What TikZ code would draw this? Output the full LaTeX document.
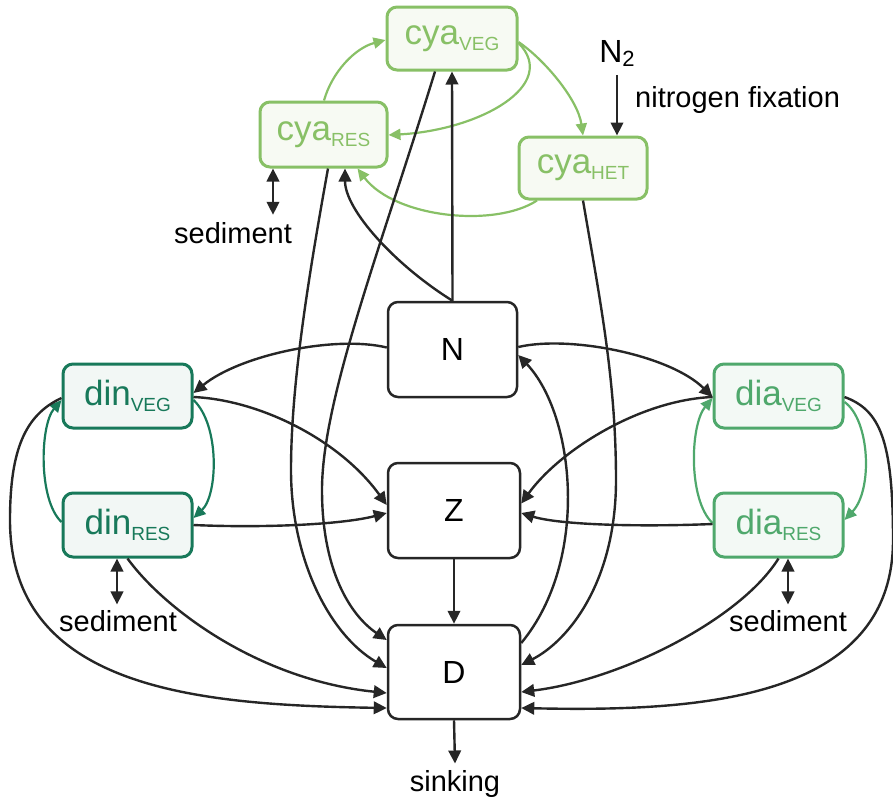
\documentclass[tikz,border=0pt]{standalone}
\usepackage{fontspec}
\setmainfont{Liberation Sans}
\usetikzlibrary{arrows.meta}
\definecolor{cyac}{HTML}{88C066}
\definecolor{cyaf}{HTML}{F7FAF3}
\definecolor{dinc}{HTML}{18795A}
\definecolor{dinf}{HTML}{F2F7F5}
\definecolor{diac}{HTML}{4FA86C}
\definecolor{diaf}{HTML}{F3F9F5}
\definecolor{ink}{HTML}{262626}
\newcommand\lsub[1]{\raisebox{-6pt}{\fontsize{19}{19}\selectfont #1}}
\begin{document}
\begin{tikzpicture}[x=1pt,y=-1pt,
  box/.style={draw=ink, line width=2.5pt, rounded corners=10pt, fill=white, inner sep=0pt,
    text=black, font=\fontsize{32}{32}\selectfont},
  gbox/.style={line width=3pt, rounded corners=10pt, inner sep=0pt, minimum width=129pt,
    minimum height=64pt, font=\fontsize{35}{35}\selectfont},
  cyabox/.style={gbox, draw=cyac, fill=cyaf, text=cyac},
  dinbox/.style={gbox, draw=dinc, fill=dinf, text=dinc},
  diabox/.style={gbox, draw=diac, fill=diaf, text=diac},
  lbl/.style={inner sep=0pt, text=black, font=\fontsize{29}{29}\selectfont},
  blk/.style={draw=ink, line width=2.4pt, -{Triangle[length=13pt,width=12.5pt]}},
  both/.style={draw=ink, line width=2.4pt, {Triangle[length=13pt,width=12.5pt]}-{Triangle[length=13pt,width=12.5pt]}},
  garrow/.style={line width=2.2pt, -{Triangle[length=12pt,width=11pt]}},
]
\useasboundingbox (0,0) rectangle (893,798);

% nodes
\node[cyabox, minimum width=130pt, minimum height=63pt] (cyaVEG) at (452,38.5) {cya\lsub{VEG}};
\node[cyabox, minimum width=127pt, minimum height=65pt] (cyaRES) at (323.5,134.5) {cya\lsub{RES}};
\node[cyabox, minimum width=128pt, minimum height=62pt] (cyaHET) at (583,168) {cya\lsub{HET}};
\node[box, minimum width=129pt, minimum height=95pt] (N) at (452.5,349.5) {N};
\node[box, minimum width=132pt, minimum height=95pt] (Z) at (454,510.5) {Z};
\node[box, minimum width=132pt, minimum height=94pt] (D) at (454,672) {D};
\node[dinbox] (dinVEG) at (127.5,396) {din\lsub{VEG}};
\node[dinbox] (dinRES) at (127.5,525) {din\lsub{RES}};
\node[diabox] (diaVEG) at (778.5,396) {dia\lsub{VEG}};
\node[diabox] (diaRES) at (778.5,525) {dia\lsub{RES}};

\node[lbl, anchor=base] (sedA) at (233,243) {sediment};
\node[lbl, anchor=base] (sedB) at (118,631.7) {sediment};
\node[lbl, anchor=base] (sedC) at (788,631.7) {sediment};
\node[lbl, anchor=base] (sink) at (455,791.7) {sinking};
\node[inner sep=0pt, font=\fontsize{32}{32}\selectfont] (N2) at (617,53.3) {N\raisebox{-4.5pt}{\fontsize{22}{22}\selectfont 2}};
\node[lbl, anchor=base west] (nfix) at (635,107) {nitrogen fixation};

% green cya arrows
\draw[garrow, cyac] ([xshift=0.5]cyaRES.north) .. controls (332,72) and (355,48) .. ([yshift=-1.5]cyaVEG.west);
\draw[garrow, cyac] ([yshift=-4.5]cyaVEG.east) .. controls (560,85) and (480,130) .. ([yshift=-0.5]cyaRES.east);
\draw[garrow, cyac] ([yshift=-3.5]cyaVEG.east) .. controls (545,60) and (578,100) .. (cyaHET.north);
\draw[garrow, cyac] ([xshift=-46]cyaHET.south) .. controls (495,228) and (395,218) .. ([xshift=34]cyaRES.south);

% din / dia internal arrows
\draw[garrow, dinc] ([yshift=-4]dinVEG.east) .. controls (220,425) and (218,495) .. ([yshift=7]dinRES.east);
\draw[garrow, dinc] ([yshift=3]dinRES.west) .. controls (38,500) and (40,425) .. ([yshift=-4]dinVEG.west);
\draw[garrow, diac] ([yshift=2]diaRES.west) .. controls (688,500) and (690,425) .. ([yshift=-2]diaVEG.west);
\draw[garrow, diac] ([yshift=-6]diaVEG.east) .. controls (870,420) and (873,490) .. ([yshift=5]diaRES.east);

% N uptake
\draw[blk] (N.north) -- (cyaVEG.south);
\draw[blk] (N.north) .. controls (395,265) and (345,210) .. ([xshift=21.5]cyaRES.south);
\draw[blk] ([yshift=2.5]N.east) .. controls (570,335) and (670,355) .. ([yshift=-1]diaVEG.west);
\draw[blk] ([yshift=2]N.west) .. controls (335,335) and (240,355) .. ([yshift=3]dinVEG.east);

% to D from cya
\draw[blk] ([xshift=4.5]cyaRES.south) .. controls (306,290) and (291,390) .. (291,470)
  .. controls (291,560) and (330,635) .. ([yshift=4]D.west);
\draw[blk] ([xshift=-17]cyaVEG.south) .. controls (380,250) and (322,400) .. (322,490)
  .. controls (322,570) and (350,615) .. ([yshift=32]D.west);
\draw[blk] (cyaHET.south) .. controls (600,300) and (616,380) .. (616,480)
  .. controls (616,580) and (570,640) .. ([yshift=7]D.east);
% D to N
\draw[blk] ([yshift=29]D.east) .. controls (590,560) and (575,415) .. ([yshift=-5.5]N.east);

% dia to Z, D
\draw[blk] ([yshift=-1]diaVEG.west) .. controls (640,400) and (560,450) .. ([yshift=7]Z.east);
\draw[blk] ([yshift=1]diaRES.west) .. controls (640,527) and (560,525) .. ([yshift=-2.5]Z.east);
\draw[blk] (diaRES.south) .. controls (740,620) and (620,680) .. ([yshift=-20]D.east);
\draw[blk] ([yshift=-1]diaVEG.east) .. controls (880,410) and (893,440) .. (893,540)
  .. controls (893,700) and (700,712) .. ([yshift=-36]D.east);

% din to Z, D
\draw[blk] ([yshift=-1]dinVEG.east) .. controls (260,400) and (340,440) .. ([yshift=5.5]Z.west);
\draw[blk] (dinRES.east) .. controls (260,528) and (340,525) .. ([yshift=-2.5]Z.west);
\draw[blk] (dinRES.south) .. controls (165,610) and (260,680) .. ([yshift=-21]D.west);
\draw[blk] ([yshift=-2]dinVEG.west) .. controls (25,415) and (10,450) .. (10,520)
  .. controls (10,690) and (200,705) .. ([yshift=-36]D.west);

% vertical
\draw[blk] (Z.south) -- (D.north);
\draw[blk] (D.south) -- ([yshift=7]sink.north);
\draw[blk] ([yshift=-8]N2.south) -- ([xshift=34]cyaHET.north);

% sediment
\draw[both] ([xshift=-50.5]cyaRES.south) -- ([xshift=40,yshift=7]sedA.north);
\draw[both] ([xshift=-10.5]dinRES.south) -- ([xshift=-1,yshift=6]sedB.north);
\draw[both] ([xshift=9.5]diaRES.south) -- ([yshift=6]sedC.north);
\end{tikzpicture}
\end{document}
